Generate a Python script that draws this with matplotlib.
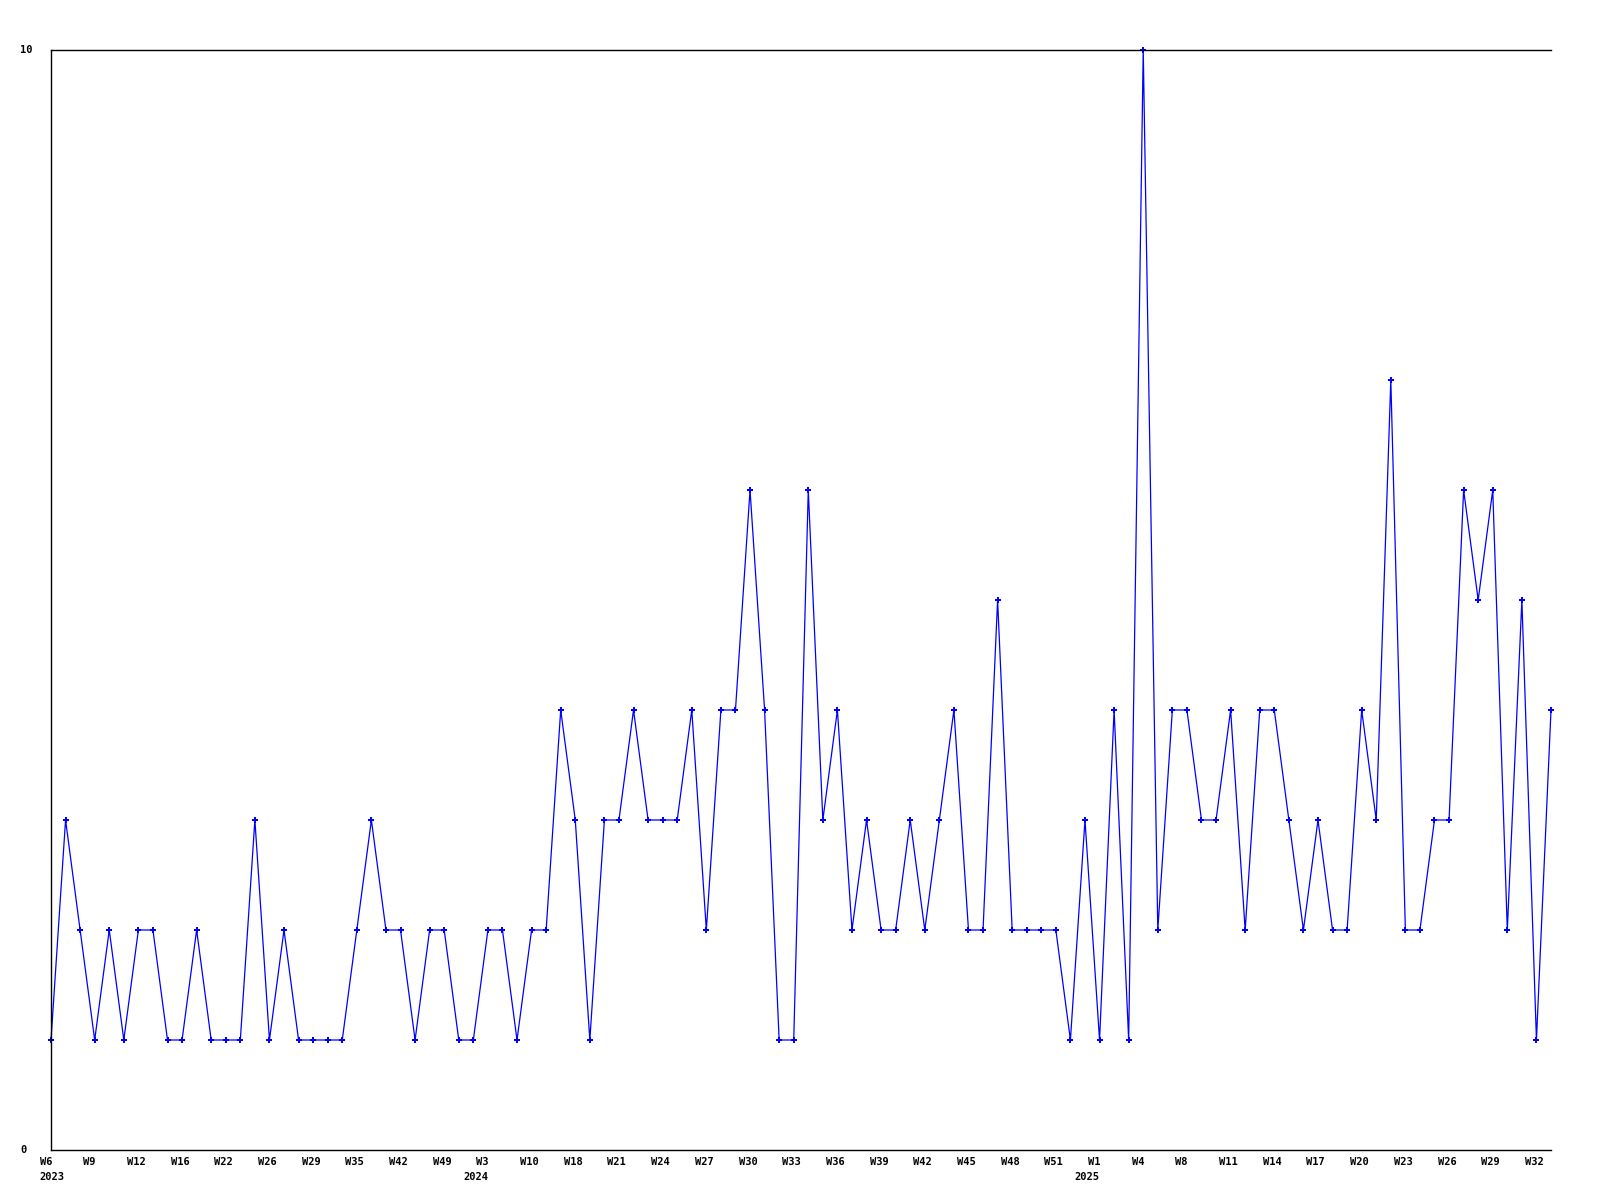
import matplotlib
matplotlib.use("Agg")
import matplotlib.pyplot as plt
from matplotlib.transforms import ScaledTranslation, blended_transform_factory

# weekly counts, one per point (weeks with no data are skipped)
counts = [1, 3, 2, 1, 2, 1, 2, 2, 1, 1, 2, 1, 1, 1, 3, 1, 2, 1, 1, 1,
          1, 2, 3, 2, 2, 1, 2, 2, 1, 1, 2, 2, 1, 2, 2, 4, 3, 1, 3, 3,
          4, 3, 3, 3, 4, 2, 4, 4, 6, 4, 1, 1, 6, 3, 4, 2, 3, 2, 2, 3,
          2, 3, 4, 2, 2, 5, 2, 2, 2, 2, 1, 3, 1, 4, 1, 10, 2, 4, 4, 3,
          3, 4, 2, 4, 4, 3, 2, 3, 2, 2, 4, 3, 7, 2, 2, 3, 3, 6, 5, 6,
          2, 5, 1, 4]

# every third point gets a week label
week_labels = ["W6", "W9", "W12", "W16", "W22", "W26", "W29", "W35", "W42", "W49",
               "W3", "W10", "W18", "W21", "W24", "W27", "W30", "W33", "W36", "W39",
               "W42", "W45", "W48", "W51", "W1", "W4", "W8", "W11", "W14", "W17",
               "W20", "W23", "W26", "W29", "W32"]
year_labels = ["2023", "2024", "2025"]
year_pos = [0, 30, 72]

x = list(range(len(counts)))

fig = plt.figure(figsize=(16, 12), dpi=100)
ax = fig.add_axes([51 / 1600, 50 / 1200, 1500 / 1600, 1100 / 1200])

ax.plot(x, counts, color="#0000ff", lw=0.9, marker="P", ms=4, mew=0,
        mfc="#0000ff", clip_on=False)

ax.set_xlim(0, len(counts) - 1)
ax.set_ylim(0, 10)
ax.spines["right"].set_visible(False)
for s in ["left", "top", "bottom"]:
    ax.spines[s].set_linewidth(1.0)
ax.set_xticks([])
ax.set_yticks([])

font = dict(family="DejaVu Sans Mono", fontweight="bold", fontsize=7.5)

fig.text(20 / 1600, 1 - 50 / 1200, "10", ha="left", va="center", **font)
fig.text(20 / 1600, 1 - 1150 / 1200, "0", ha="left", va="center", **font)

trans = blended_transform_factory(ax.transData, fig.transFigure)
shift = ScaledTranslation(-11.5 / 100, 0, fig.dpi_scale_trans)
for i, lab in enumerate(week_labels):
    ax.text(i * 3, 1 - 1162 / 1200, lab, ha="left", va="center",
            transform=trans + shift, **font)

for k, (lab, p) in enumerate(zip(year_labels, year_pos)):
    if k == 0:
        ax.text(p, 1 - 1177 / 1200, lab, ha="left", va="center",
                transform=trans + shift, **font)
    else:
        s2 = ScaledTranslation(-12.5 / 100, 0, fig.dpi_scale_trans)
        ax.text(p, 1 - 1177 / 1200, lab, ha="center", va="center",
                transform=trans + s2, **font)

fig.savefig("out.png", dpi=100)
